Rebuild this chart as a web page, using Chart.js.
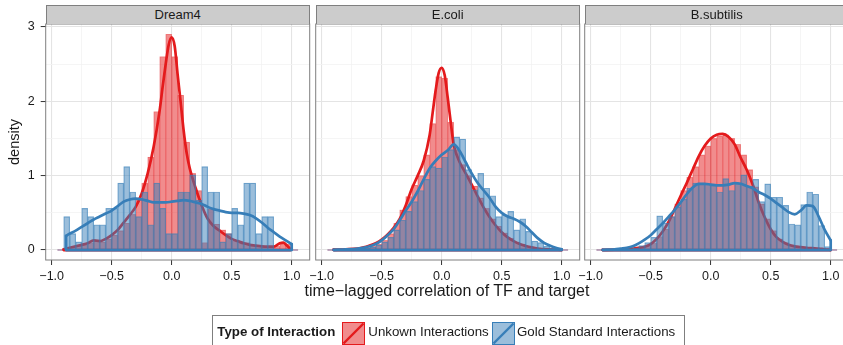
<!DOCTYPE html>
<html>
<head>
<meta charset="utf-8">
<script src="https://cdn.jsdelivr.net/npm/chart.js"></script>
<style>
html,body{margin:0;padding:0;background:#fff;}
body{width:843px;height:345px;overflow:hidden;position:relative;font-family:'Liberation Sans',Arial,Helvetica,sans-serif;color:#1a1a1a;}
canvas{position:absolute;left:0;top:0;}
.strip{position:absolute;top:5px;height:19px;width:264px;box-sizing:border-box;background:#CCCCCC;border:1px solid #7F7F7F;border-bottom:none;font-size:13px;text-align:center;line-height:18px;white-space:nowrap;}
#ytitle{position:absolute;left:-36px;top:134px;width:100px;height:16px;line-height:16px;text-align:center;font-size:14.5px;transform:rotate(-90deg);}
#xtitle{position:absolute;left:247px;top:282px;width:400px;height:18px;line-height:18px;text-align:center;font-size:16px;white-space:nowrap;}
#legend{position:absolute;left:211.5px;top:315px;width:473px;height:36px;border:1px solid #7F7F7F;box-sizing:border-box;background:#fff;}
#legend span{position:absolute;top:8px;height:16px;line-height:16px;font-size:13.3px;white-space:nowrap;}
#legend svg{position:absolute;top:5.5px;}
</style>
</head>
<body>
<canvas id="c0" width="860" height="345"></canvas>
<canvas id="c1" width="860" height="345"></canvas>
<canvas id="c2" width="860" height="345"></canvas>

<div class="strip" id="s0" style="left:45.7px">Dream4</div>
<div class="strip" id="s1" style="left:315.7px">E.coli</div>
<div class="strip" id="s2" style="left:584.7px">B.subtilis</div>
<div id="ytitle">density</div>
<div id="xtitle">time−lagged correlation of TF and target</div>
<div id="legend">
  <span style="left:4.8px;font-weight:bold">Type of Interaction</span>
  <svg style="left:129.2px" width="23" height="23"><rect x="0.5" y="0.5" width="22" height="22" fill="rgba(228,26,28,0.5)" stroke="#E41A1C" stroke-width="1"/><line x1="1.5" y1="21.5" x2="21.5" y2="1.5" stroke="#E41A1C" stroke-width="2.4"/></svg>
  <span style="left:155.8px">Unkown Interactions</span>
  <svg style="left:279.5px" width="23" height="23"><rect x="0.5" y="0.5" width="22" height="22" fill="rgba(55,126,184,0.5)" stroke="#377EB8" stroke-width="1"/><line x1="1.5" y1="21.5" x2="21.5" y2="1.5" stroke="#377EB8" stroke-width="2.4"/></svg>
  <span style="left:304.5px">Gold Standard Interactions</span>
</div>

<script>
// ---------------- DATA ----------------
const facetNames = ['Dream4', 'E.coli', 'B.subtilis'];
const seriesNames = ['Unkown Interactions', 'Gold Standard Interactions'];

// histogram bin centres (bin width 0.05, edges -0.95 ... 1.05)
const binCenters = [-0.925,-0.875,-0.825,-0.775,-0.725,-0.675,-0.625,-0.575,-0.525,-0.475,
  -0.425,-0.375,-0.325,-0.275,-0.225,-0.175,-0.125,-0.075,-0.025,0.025,
  0.075,0.125,0.175,0.225,0.275,0.325,0.375,0.425,0.475,0.525,
  0.575,0.625,0.675,0.725,0.775,0.825,0.875,0.925,0.975,1.025];
const binWidth = 0.05;

// histogram densities
const dream4Unknown = [0,0.02,0.04,0.06,0.07,0.10,0.14,0.11,0.15,0.20,
  0.26,0.36,0.48,0.70,0.90,1.25,1.86,2.60,2.90,2.60,
  2.08,1.45,1.03,0.80,0.10,0.55,0.35,0.27,0.22,0.12,
  0.11,0.10,0.06,0.06,0.04,0.04,0.05,0.08,0.08,0];
const dream4Gold = [0,0.45,0.22,0.11,0.56,0.45,0.34,0.34,0.56,0.56,
  0.90,1.12,0.78,0.45,0.78,0.34,0.90,0.56,0.22,0.22,
  0.78,0.78,1.01,0.67,1.12,0.78,0.78,0.11,0.22,0.56,
  0.34,0.90,0.90,0.22,0.45,0.45,0,0,0,0];
const ecoliUnknown = [0,0.005,0.007,0.01,0.012,0.018,0.03,0.05,0.08,0.13,
  0.22,0.36,0.54,0.72,0.87,1.0,1.28,1.70,2.33,2.31,
  1.72,1.35,1.15,1.0,0.86,0.7,0.56,0.42,0.32,0.23,
  0.16,0.11,0.075,0.05,0.03,0.02,0.012,0.008,0.004,0];
const ecoliGold = [0,0.005,0.005,0.01,0.01,0.02,0.03,0.04,0.07,0.11,
  0.17,0.27,0.4,0.52,0.65,0.8,0.95,1.12,1.1,1.25,
  1.35,1.52,1.49,1.08,0.81,1.03,0.83,0.73,0.45,0.47,
  0.52,0.27,0.42,0.25,0.12,0.10,0.05,0.03,0.01,0];
const bsubUnknown = [0,0.004,0.005,0.008,0.01,0.014,0.02,0.03,0.05,0.09,
  0.18,0.28,0.45,0.62,0.8,0.98,1.12,1.28,1.4,1.5,
  1.53,1.55,1.5,1.42,1.28,1.08,0.85,0.62,0.42,0.26,
  0.15,0.1,0.07,0.05,0.04,0.03,0.025,0.02,0.01,0];
const bsubGold = [0,0.01,0.01,0.01,0.015,0.02,0.03,0.06,0.1,0.17,
  0.46,0.36,0.45,0.58,0.68,0.83,0.9,0.9,0.89,0.87,
  0.78,0.96,0.8,0.9,1.01,0.86,0.95,0.65,0.89,0.71,
  0.71,0.6,0.35,0.34,0.61,0.78,0.75,0.33,0.045,0];

// kernel density curves (x, y)
const dream4UnknownDensX = [-0.9,-0.85,-0.8,-0.75,-0.7,-0.65,-0.6,-0.55,-0.5,-0.45,-0.4,-0.35,-0.3,-0.25,-0.2,-0.15,-0.1,
  -0.075,-0.05,-0.025,0,0.025,0.05,0.075,0.1,0.125,0.15,
  0.2,0.25,0.3,0.35,0.4,0.45,0.5,0.55,0.6,0.65,0.7,0.75,0.8,0.85,0.9,0.93,0.96,0.99];
const dream4UnknownDensY = [0.01,0.03,0.05,0.07,0.09,0.13,0.12,0.15,0.2,0.27,0.37,0.47,0.58,0.76,1.03,1.39,1.88,
  2.2,2.5,2.76,2.86,2.74,2.35,1.98,1.6,1.3,1.1,
  0.83,0.6,0.42,0.32,0.26,0.2,0.15,0.12,0.09,0.07,0.06,0.05,0.045,0.045,0.09,0.1,0.06,0.01];
const dream4GoldDensX = [-0.88,-0.85,-0.8,-0.75,-0.7,-0.65,-0.6,-0.55,-0.5,-0.45,-0.4,-0.35,-0.3,-0.25,-0.2,-0.15,-0.1,-0.05,0,
  0.05,0.1,0.15,0.2,0.25,0.3,0.35,0.4,0.45,0.5,0.55,0.6,0.65,0.7,0.75,0.8,0.85,0.9,0.95,1.0];
const dream4GoldDensY = [0.19,0.22,0.26,0.31,0.36,0.41,0.45,0.49,0.53,0.59,0.65,0.68,0.69,0.68,0.66,0.64,0.64,0.64,0.65,
  0.66,0.67,0.66,0.64,0.62,0.58,0.55,0.53,0.51,0.5,0.5,0.49,0.47,0.43,0.37,0.3,0.24,0.18,0.13,0.08];
const ecoliUnknownDensX = [-0.9,-0.8,-0.7,-0.65,-0.6,-0.55,-0.5,-0.45,-0.4,-0.35,-0.3,-0.25,-0.2,-0.15,-0.1,
  -0.075,-0.05,-0.025,0,0.025,0.05,0.075,0.1,
  0.15,0.2,0.25,0.3,0.35,0.4,0.45,0.5,0.55,0.6,0.65,0.7,0.75,0.8,0.9,1.0];
const ecoliUnknownDensY = [0.005,0.01,0.02,0.035,0.06,0.09,0.14,0.21,0.3,0.42,0.6,0.82,1.0,1.2,1.55,
  1.85,2.15,2.38,2.45,2.35,2.05,1.72,1.42,
  1.18,1.03,0.88,0.72,0.57,0.44,0.33,0.24,0.17,0.12,0.08,0.055,0.035,0.02,0.008,0.002];
const ecoliGoldDensX = [-0.9,-0.8,-0.7,-0.6,-0.55,-0.5,-0.45,-0.4,-0.35,-0.3,-0.25,-0.2,-0.15,-0.1,-0.05,0,
  0.05,0.1,0.15,0.2,0.25,0.3,0.35,0.4,0.45,0.5,0.55,0.6,0.65,0.7,0.75,0.8,0.85,0.9,0.95,1.0];
const ecoliGoldDensY = [0.003,0.008,0.02,0.05,0.08,0.13,0.2,0.28,0.4,0.53,0.65,0.79,0.95,1.1,1.2,1.28,
  1.34,1.42,1.33,1.18,1.03,0.9,0.8,0.7,0.58,0.5,0.45,0.42,0.38,0.32,0.24,0.16,0.1,0.06,0.03,0.01];
const bsubUnknownDensX = [-0.9,-0.8,-0.7,-0.65,-0.6,-0.55,-0.5,-0.45,-0.4,-0.35,-0.3,-0.25,-0.2,-0.15,-0.1,-0.05,0,
  0.05,0.1,0.15,0.2,0.25,0.3,0.35,0.4,0.45,0.5,0.55,0.6,0.65,0.7,0.75,0.8,0.85,0.9,0.95,1.0];
const bsubUnknownDensY = [0.002,0.005,0.012,0.02,0.03,0.045,0.08,0.15,0.25,0.38,0.55,0.73,0.9,1.08,1.26,1.4,1.5,
  1.55,1.56,1.52,1.42,1.24,1.08,0.88,0.64,0.44,0.28,0.17,0.11,0.07,0.05,0.04,0.03,0.025,0.02,0.01,0.003];
const bsubGoldDensX = [-0.9,-0.8,-0.75,-0.7,-0.65,-0.6,-0.55,-0.5,-0.45,-0.4,-0.35,-0.3,-0.25,-0.2,-0.15,-0.1,-0.05,0,
  0.05,0.1,0.15,0.2,0.25,0.3,0.35,0.4,0.45,0.5,0.55,0.6,0.65,0.7,0.75,0.8,0.85,0.9,0.95,1.0];
const bsubGoldDensY = [0.003,0.01,0.02,0.03,0.05,0.09,0.14,0.2,0.28,0.36,0.45,0.54,0.64,0.75,0.84,0.89,0.89,0.88,
  0.87,0.87,0.88,0.9,0.89,0.86,0.83,0.78,0.74,0.69,0.63,0.57,0.51,0.48,0.53,0.6,0.59,0.45,0.27,0.13];

// axes
const xTickValues = [-1,-0.75,-0.5,-0.25,0,0.25,0.5,0.75,1];
const xMajorTicks = [-1,-0.5,0,0.5,1];
const yTickValues = [0,0.5,1,1.5,2,2.5,3];
const yMajorTicks = [0,1,2,3];
const xLimits = [-1.05, 1.15];
const yLimits = [-0.134, 3.038];

// ---------------- DRAWING ----------------
const FONT = "'Liberation Sans', Arial, Helvetica, sans-serif";
const RED = '#E41A1C', BLUE = '#377EB8';
const panelLefts = [45.7, 315.7, 584.7];
const PANEL_W = 264, CANVAS_W = 860, CANVAS_H = 345;
const PLOT_TOP = 24, PLOT_BOTTOM = 260, XAXIS_H = 30;
const LINE_W = 2.7;

const panels = [
  {unk: dream4Unknown, gold: dream4Gold, ux: dream4UnknownDensX, uy: dream4UnknownDensY, gx: dream4GoldDensX, gy: dream4GoldDensY},
  {unk: ecoliUnknown, gold: ecoliGold, ux: ecoliUnknownDensX, uy: ecoliUnknownDensY, gx: ecoliGoldDensX, gy: ecoliGoldDensY},
  {unk: bsubUnknown, gold: bsubGold, ux: bsubUnknownDensX, uy: bsubUnknownDensY, gx: bsubGoldDensX, gy: bsubGoldDensY}
];

const isIn = (arr, v) => arr.some(m => Math.abs(m - v) < 1e-9);
const fmtX = v => v.toFixed(1).replace('-', '\u2212');
const pts = (xs, ys) => xs.map((x, i) => ({x, y: ys[i]}));
const closure = (xs, ys) => {
  const n = xs.length - 1;
  return [{x: xs[0], y: ys[0]}, {x: xs[0], y: 0}, {x: xs[n], y: 0}, {x: xs[n], y: ys[n]}];
};

const panelBorder = {
  id: 'panelBorder',
  afterDraw(chart) {
    const {ctx, chartArea: a} = chart;
    ctx.save();
    ctx.strokeStyle = '#7F7F7F';
    ctx.lineWidth = 1;
    ctx.strokeRect(a.left, a.top, a.right - a.left, a.bottom - a.top);
    ctx.restore();
  }
};

function lineDs(data, color, order, width, smooth) {
  return {
    type: 'line', data, order,
    borderColor: color, borderWidth: width, pointRadius: 0, fill: false,
    borderJoinStyle: 'round', borderCapStyle: 'round',
    cubicInterpolationMode: smooth ? 'monotone' : 'default', tension: 0
  };
}
function barDs(label, values, fill, border, bw, order) {
  return {
    type: 'bar', label, order,
    data: binCenters.map((x, i) => ({x, y: values[i]})),
    backgroundColor: fill, borderColor: border, borderWidth: bw,
    grouped: false, barPercentage: 1, categoryPercentage: 1
  };
}

panels.forEach((p, i) => {
  const showY = i === 0;
  const edgeL = binCenters[0] - binWidth / 2, edgeR = binCenters[binCenters.length - 1] + binWidth / 2;
  const datasets = [
    lineDs(pts(p.gx, p.gy), BLUE, 1, LINE_W, true),
    lineDs(closure(p.gx, p.gy), BLUE, 1.5, LINE_W, false),
    barDs(seriesNames[1], p.gold, 'rgba(55,126,184,0.5)', 'rgba(55,126,184,0.6)', 0.5, 3),
    lineDs(pts(p.ux, p.uy), RED, 4, LINE_W, true),
    lineDs(closure(p.ux, p.uy), RED, 4.5, LINE_W, false),
    lineDs([{x: edgeL, y: 0}, {x: edgeR, y: 0}], 'rgba(120,70,120,0.9)', 5, 1, false),
    barDs(seriesNames[0], p.unk, 'rgba(228,26,28,0.5)', 'rgba(228,26,28,0.35)', 0.4, 6)
  ];
  new Chart(document.getElementById('c' + i), {
    type: 'bar',
    data: {datasets},
    options: {
      responsive: false, animation: false, devicePixelRatio: 1, events: [],
      layout: {padding: {
        left: showY ? 0 : panelLefts[i],
        right: CANVAS_W - panelLefts[i] - PANEL_W,
        top: PLOT_TOP,
        bottom: CANVAS_H - PLOT_BOTTOM - XAXIS_H
      }},
      plugins: {legend: {display: false}, tooltip: {enabled: false}, title: {display: false}},
      scales: {
        x: {
          type: 'linear', min: xLimits[0], max: xLimits[1], offset: false,
          afterBuildTicks: s => { s.ticks = xTickValues.map(v => ({value: v})); },
          afterFit: s => { s.height = XAXIS_H; },
          border: {display: false},
          grid: {
            offset: false, drawTicks: true, tickLength: 5, tickWidth: 1,
            color: c => (c.tick && isIn(xMajorTicks, c.tick.value)) ? '#E4E4E4' : '#F3F3F3',
            lineWidth: c => (c.tick && isIn(xMajorTicks, c.tick.value)) ? 1.1 : 0.8,
            tickColor: c => (c.tick && isIn(xMajorTicks, c.tick.value)) ? '#333333' : 'rgba(0,0,0,0)'
          },
          ticks: {
            autoSkip: false, maxRotation: 0, minRotation: 0, padding: 4,
            color: '#1a1a1a', font: {family: FONT, size: 12.5},
            callback: v => isIn(xMajorTicks, v) ? fmtX(v) : ''
          }
        },
        y: {
          type: 'linear', min: yLimits[0], max: yLimits[1],
          afterBuildTicks: s => { s.ticks = yTickValues.map(v => ({value: v})); },
          afterFit: s => { s.width = showY ? panelLefts[0] : 0; },
          border: {display: false},
          grid: {
            drawTicks: showY, tickLength: 5, tickWidth: 1,
            color: c => (c.tick && isIn(yMajorTicks, c.tick.value)) ? '#E4E4E4' : '#F3F3F3',
            lineWidth: c => (c.tick && isIn(yMajorTicks, c.tick.value)) ? 1.1 : 0.8,
            tickColor: c => (c.tick && isIn(yMajorTicks, c.tick.value)) ? '#333333' : 'rgba(0,0,0,0)'
          },
          ticks: {
            display: showY, padding: 6,
            color: '#1a1a1a', font: {family: FONT, size: 12.5},
            callback: v => isIn(yMajorTicks, v) ? String(v) : ''
          }
        }
      }
    },
    plugins: [panelBorder]
  });
});
</script>
</body>
</html>
